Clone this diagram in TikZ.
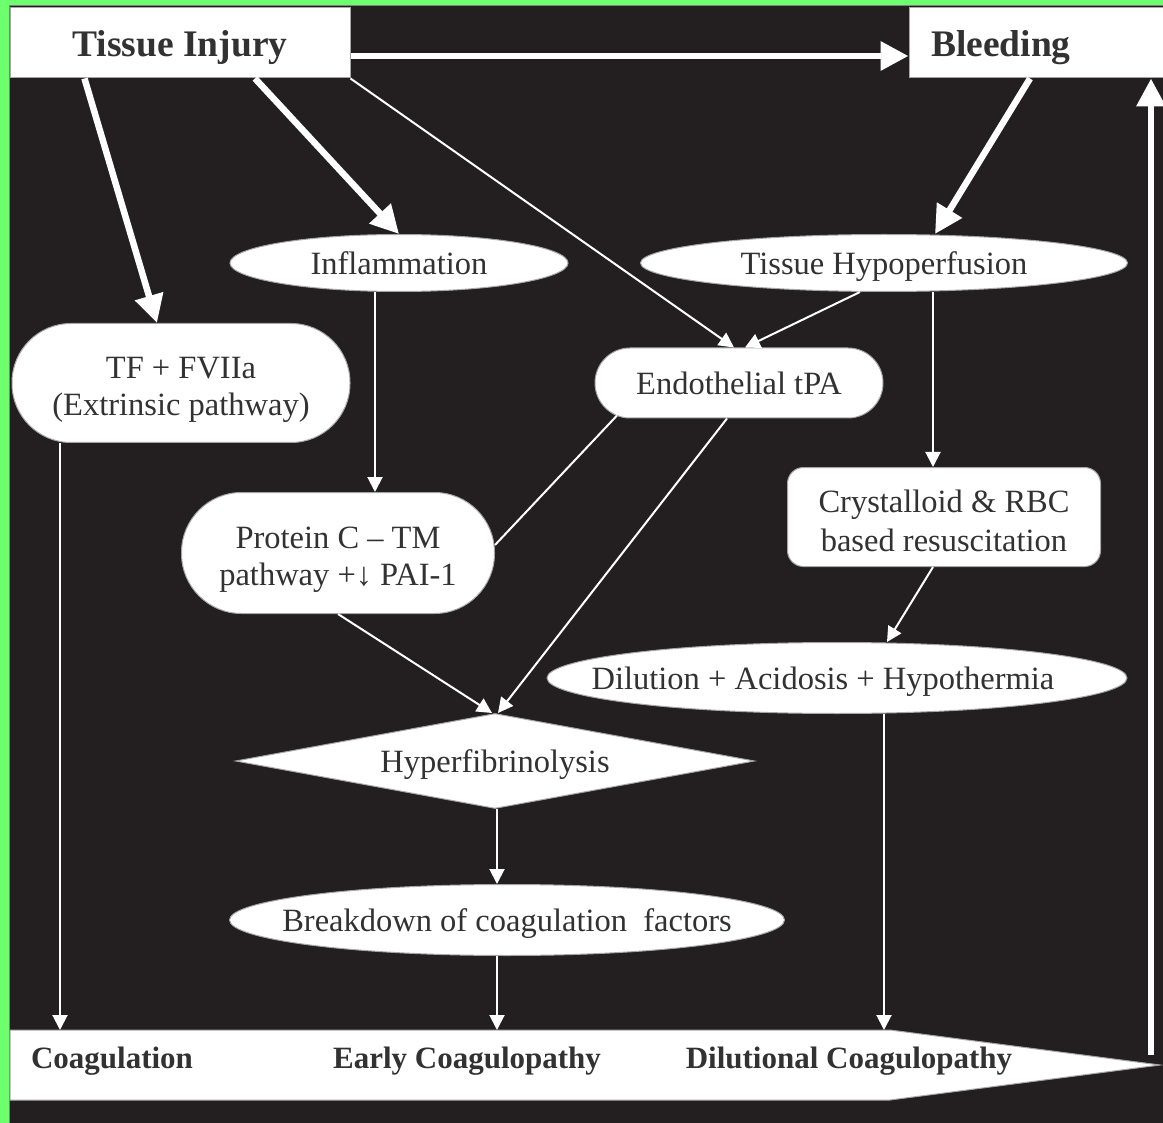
\documentclass[tikz,border=0pt]{standalone}
\usepackage{fontspec}
\setmainfont{Liberation Serif}
\usetikzlibrary{shapes.geometric,arrows.meta,calc}
\definecolor{bgk}{RGB}{35,31,32}
\definecolor{grn}{RGB}{110,255,110}
\definecolor{txt}{RGB}{50,50,50}
\begin{document}
\begin{tikzpicture}[x=1pt,y=-1pt,
 box/.style={fill=white,draw=gray!70,line width=1pt,inner sep=0pt,text=txt,font=\fontsize{32.5}{37}\selectfont,align=center,text depth=0pt},
 hdr/.style={box,font=\bfseries\fontsize{37.5}{40}\selectfont},
 ell/.style={box,ellipse},
 txtonly/.style={inner sep=0pt,text=txt,font=\fontsize{32.5}{37}\selectfont,align=center},
 thinarr/.style={draw=white,line width=2pt,-{Triangle[length=15pt,width=15pt]}},
 thinline/.style={draw=white,line width=2pt},
 thickarr/.style={draw=white,line width=6.5pt,-{Triangle[length=28pt,width=28pt]}},
 lab/.style={text=txt,font=\bfseries\fontsize{31}{34}\selectfont,inner sep=0pt,text depth=0pt}]
\useasboundingbox (0,0) rectangle (1163,1123);
\fill[grn] (0,0) rectangle (1163,1123);
\fill[bgk] (9,5) rectangle (1163,1123);
\draw[gray,line width=1pt] (9.5,1123) -- (9.5,5.5) -- (1163,5.5);

% nodes
\node[hdr,rectangle,minimum width=340pt,minimum height=70pt] (ti) at (180,43) {Tissue Injury};
\node[hdr,rectangle,minimum height=70pt,text width=210pt,align=left,inner xsep=22pt] (bl) at (1036,43) {Bleeding};
\node[ell,minimum width=338pt,minimum height=57pt] (inf) at (399,263) {Inflammation};
\node[ell,minimum width=487pt,minimum height=57pt] (hyp) at (884,263) {Tissue Hypoperfusion};
\node[box,rectangle,rounded corners=59pt,minimum width=338pt,minimum height=119pt] (tf) at (181,383) {};
\node[txtonly,yshift=-7pt] (tft) at (tf.center) {TF + FVIIa\\(Extrinsic pathway)};
\node[box,rectangle,rounded corners=35pt,minimum width=288pt,minimum height=70pt] (et) at (739,383) {Endothelial tPA};
\node[box,rectangle,rounded corners=60pt,minimum width=313pt,minimum height=121pt] (pc) at (338,553) {};
\node[txtonly,yshift=-7pt] (pct) at (pc.center) {Protein C -- TM\\pathway +↓ PAI-1};
\node[box,rectangle,rounded corners=16pt,minimum width=313pt,minimum height=99pt] (cr) at (944,517) {};
\node[txtonly,yshift=-4pt,font=\fontsize{32.5}{39}\selectfont] (crt) at (cr.center) {Crystalloid \& RBC\\based resuscitation};
\node[ell,minimum width=580pt,minimum height=71pt] (dil) at (837,678) {};
\node[txtonly,text depth=0pt,xshift=-14pt] (dilt) at (dil.center) {Dilution + Acidosis + Hypothermia};
\node[box,diamond,shape aspect=5.46,minimum width=519pt,minimum height=95pt] (hf) at (495,761) {Hyperfibrinolysis};
\node[ell,inner xsep=-60pt,minimum width=555pt,minimum height=71pt] (bd) at (507,920) {Breakdown of coagulation\ \ factors};

% bottom band
\filldraw[fill=white,draw=gray!70,line width=1pt] (10,1030) -- (890,1030) -- (1160,1065) -- (890,1100) -- (10,1100) -- cycle;
\node[lab] (coag) at (112,1058) {Coagulation};
\node[lab] (early) at (467,1058) {Early Coagulopathy};
\node[lab] (dilc) at (849,1058) {Dilutional Coagulopathy};
\coordinate (c1) at (60,1030);
\coordinate (c2) at (497,1030);
\coordinate (c3) at (884,1030);
\coordinate (c4) at (1151,1055);

% thick connectors
\draw[thickarr] ($(ti.east)+(0,13)$) -- ($(bl.west)+(0,13)$);
\draw[thickarr] ($(ti.south west)+(75,0)$) -- ($(tf.north)+(-24,0)$);
\draw[thickarr] ($(ti.south)+(75,0)$) -- (inf.north);
\draw[thickarr] ($(bl.south)+(-6,0)$) -- ($(hyp.north)+(51,0)$);
\draw[thickarr] (c4) -- (bl.south -| c4);

% thin connectors
\draw[thinarr] (ti.south east) -- ($(et.north)+(-5,0)$);
\draw[thinarr] ($(hyp.south)+(-24,0)$) -- ($(et.north)+(6,0)$);
\draw[thinarr] ($(inf.south)+(-24,0)$) -- ($(pc.north)+(37,0)$);
\draw[thinarr] ($(hyp.south)+(49,0)$) -- ($(cr.north)+(-11,0)$);
\draw[thinline] ($(et.south)+(-122,-3)$) -- ($(pc.east)+(0,-8)$);
\draw[thinarr] ($(et.south)+(-12,0)$) -- ($(hf.north)+(3,0)$);
\draw[thinarr] (pc.south) -- ($(hf.north)+(-3,0)$);
\draw[thinarr] ($(cr.south)+(-11,0)$) -- ($(dil.north)+(50,0)$);
\draw[thinarr] ($(hf.south)+(2,0)$) -- ($(bd.north)+(-10,0)$);
\draw[thinarr] ($(bd.south)+(-10,0)$) -- (c2);
\draw[thinarr] (tf.south -| c1) -- (c1);
\draw[thinarr] ($(dil.south)+(47,0)$) -- (c3);
\end{tikzpicture}
\end{document}
